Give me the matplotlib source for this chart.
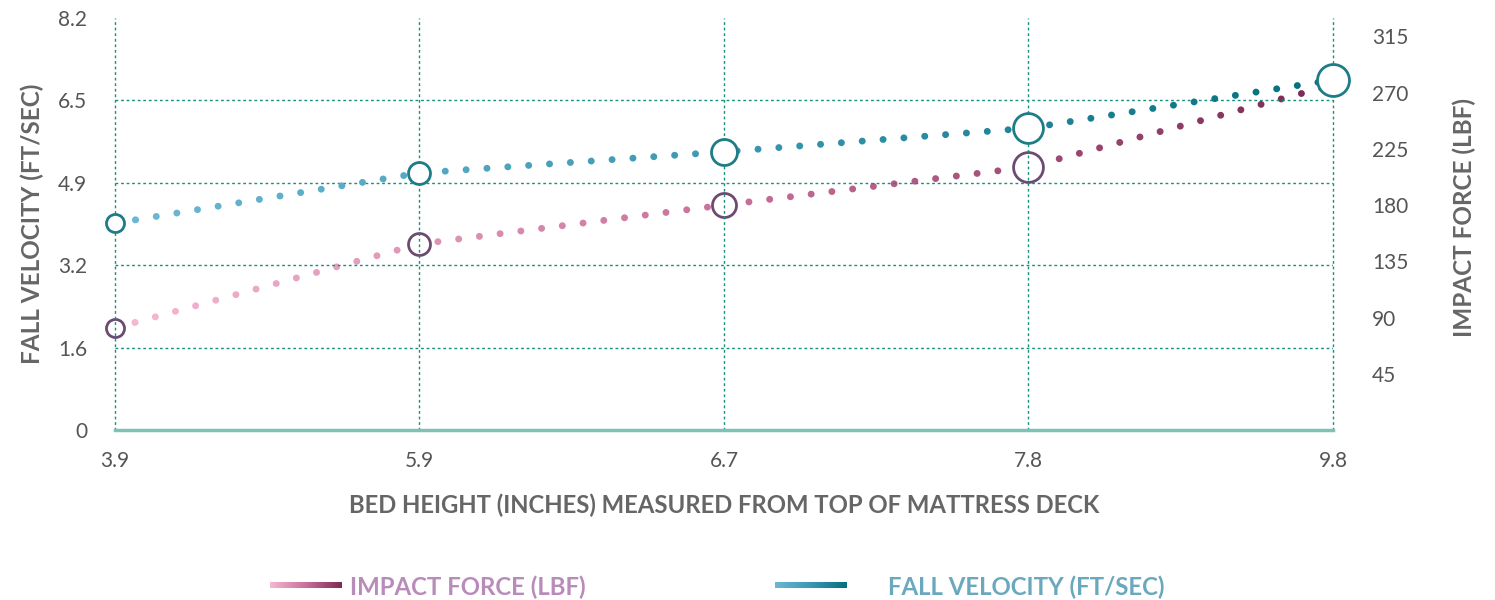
import numpy as np
import matplotlib
matplotlib.use('Agg')
import matplotlib.pyplot as plt
from matplotlib.colors import LinearSegmentedColormap
from matplotlib.patches import Rectangle

plt.rcParams['font.family'] = ['Lato', 'DejaVu Sans']

heights = ['3.9', '5.9', '6.7', '7.8', '9.8']
velocity = [4.11, 5.11, 5.53, 6.00, 6.96]          # ft/sec, left axis
impact = [81.6, 148.8, 180.0, 210.4, 276.0]        # lbf, right axis
vel_sizes = [13, 15.8, 18.7, 21.5, 23]             # marker size (pt)
imp_sizes = [13, 15.8, 17.3, 21.5, 14]

left_ticks = [0, 1.64, 3.28, 4.92, 6.56, 8.2]
left_labels = ['0', '1.6', '3.2', '4.9', '6.5', '8.2']
right_ticks = [45, 90, 135, 180, 225, 270, 315]

vel_cmap = LinearSegmentedColormap.from_list('vel', ['#6db7d3', '#3a98b0', '#04707e'])
imp_cmap = LinearSegmentedColormap.from_list('imp', ['#f5b8d2', '#c9709a', '#7b2a54'])

grid_c = '#17907f'
tick_c = '#555555'
label_c = '#666666'

fig = plt.figure(figsize=(14.95, 6), dpi=100)
ax = fig.add_axes([0.0769, 0.2833, 0.8147, 0.6875])
ax2 = ax.twinx()

x = np.arange(len(heights))
ax.set_xlim(0, len(heights) - 1)
ax.set_ylim(0, 8.2)
ax2.set_ylim(0, 330)


def gradient_dots(axis, xs, ys, cmap, n=90):
    # full dotted line drawn n times, each clipped to a vertical strip -> colour gradient
    edges = np.linspace(xs[0], xs[-1], n + 1)
    y0, y1 = axis.get_ylim()
    for i in range(n):
        ln, = axis.plot(xs, ys, color=cmap(i / (n - 1)), lw=5,
                        linestyle=(0, (0.01, 3.0)), dash_capstyle='round',
                        zorder=2, clip_on=True)
        w = edges[i + 1] - edges[i]
        r = Rectangle((edges[i] - (0.02 if i == 0 else 0), y0 - 50), w + (0.04 if i in (0, n - 1) else 0),
                      (y1 - y0) + 100, transform=axis.transData)
        ln.set_clip_path(r)


# grid
for xi in x:
    ax.axvline(xi, color=grid_c, lw=1, linestyle=(0, (2, 2)), zorder=1, clip_on=False)
for t in left_ticks[1:-1]:
    ax.axhline(t, color=grid_c, lw=1, linestyle=(0, (2, 2)), zorder=1)

gradient_dots(ax2, x, impact, imp_cmap)
gradient_dots(ax, x, velocity, vel_cmap)

for xi, yi, s in zip(x, impact, imp_sizes):
    ax2.plot(xi, yi, 'o', ms=s, mfc='white', mec='#6d4a72', mew=2, zorder=5, clip_on=False)
for xi, yi, s in zip(x, velocity, vel_sizes):
    ax.plot(xi, yi, 'o', ms=s, mfc='white', mec='#1e7c86', mew=2, zorder=5, clip_on=False)

ax.set_zorder(ax2.get_zorder() + 1)
ax.patch.set_visible(False)

for a in (ax, ax2):
    for sp in ('top', 'left', 'right', 'bottom'):
        a.spines[sp].set_visible(False)
ax.spines['bottom'].set_visible(True)
ax.spines['bottom'].set_color('#80c1b5')
ax.spines['bottom'].set_linewidth(2.5)

ax.set_xticks(x)
ax.set_xticklabels(heights)
ax.set_yticks(left_ticks)
ax.set_yticklabels(left_labels)
ax2.set_yticks(right_ticks)
ax.tick_params(axis='x', length=0, pad=15, labelsize=15, labelcolor=tick_c)
ax.tick_params(axis='y', length=0, pad=20, labelsize=15, labelcolor=tick_c)
ax2.tick_params(axis='y', length=0, pad=28, labelsize=15, labelcolor=tick_c)

ax.set_xlabel('BED HEIGHT (INCHES) MEASURED FROM TOP OF MATTRESS DECK',
              fontsize=17.2, fontweight='bold', color=label_c, labelpad=16)
ax.set_ylabel('FALL VELOCITY (FT/SEC)', fontsize=17.5, fontweight='bold',
              color=label_c, labelpad=10)
ax2.set_ylabel('IMPACT FORCE (LBF)', fontsize=17.5, fontweight='bold',
               color=label_c, labelpad=30)
ax2.yaxis.set_label_coords(1.098, 0.515)

# legend with gradient bars
grad = np.linspace(0, 1, 256).reshape(1, -1)
for (x0, cmap, txt, tx, col) in [(270, imp_cmap, 'IMPACT FORCE (LBF)', 350, '#b98bbb'),
                                 (775, vel_cmap, 'FALL VELOCITY (FT/SEC)', 888, '#6aa8bd')]:
    la = fig.add_axes([x0 / 1495, (600 - 588) / 600, 72 / 1495, 6 / 600])
    la.imshow(grad, aspect='auto', cmap=cmap)
    la.axis('off')
    fig.text(tx / 1495, (600 - 587) / 600, txt, fontsize=17.3, fontweight='bold',
             color=col, ha='left', va='center')

fig.savefig('out.png', dpi=100)
